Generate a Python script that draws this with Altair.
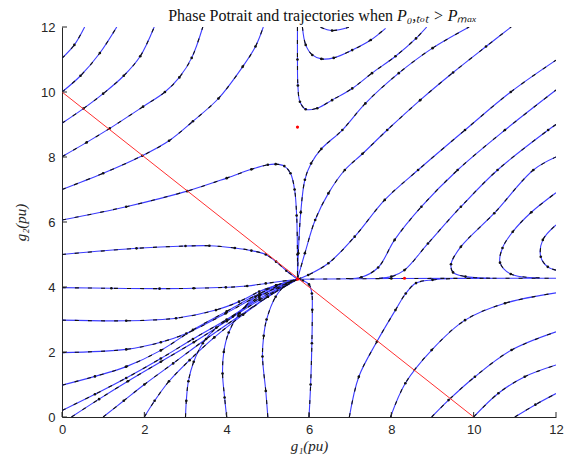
import altair as alt
import pandas as pd

TICKS = [0, 2, 4, 6, 8, 10, 12]
TITLE_MAIN = "Phase Potrait and trajectories when"
TITLE_MATH = "P\u2080,\u209c\u2092\u209c > P\u2098\u2090\u2093"

# --- trajectories (g1, g2) ---
curve_A = [(0, 11.04), (0.3, 11.45), (0.55, 12)]
curve_B = [(0, 10), (0.45, 10.5), (0.92, 11.2), (1.33, 12)]
curve_C = [(0, 9.04), (0.52, 9.49), (1.0, 9.95), (1.5, 10.5), (1.9, 11.1), (2.24, 12)]
curve_D = [(0, 8.01), (0.6, 8.45), (1.16, 8.88), (1.97, 9.55), (2.5, 10.0), (2.85, 10.45), (3.15, 11.05), (3.42, 12)]
curve_E = [(0, 7.0), (1.0, 7.5), (1.95, 8.04), (2.6, 8.5), (3.18, 9.1), (3.8, 9.8), (4.39, 10.78), (4.7, 11.4), (4.89, 12)]
curve_F = [(0, 6.06), (1.56, 6.47), (3.04, 6.95), (4.0, 7.35), (4.6, 7.62), (5.0, 7.76), (5.19, 7.78), (5.4, 7.72),
           (5.55, 7.5), (5.65, 7.0), (5.7, 6.2), (5.72, 5.0), (5.72, 4.24)]
curve_G = [(0, 5.0), (1.81, 5.19), (3.0, 5.26), (3.58, 5.27), (4.2, 5.2), (4.6, 5.12), (4.95, 5.0), (5.2, 4.78),
           (5.45, 4.5), (5.72, 4.24)]
curve_H = [(0, 3.98), (1.2, 3.96), (2.37, 3.95), (3.2, 3.96), (3.98, 3.99), (4.5, 4.03), (4.95, 4.11), (5.72, 4.24)]
curve_I = [(0, 2.98), (1.56, 2.96), (2.77, 3.04), (3.74, 3.29), (4.3, 3.55), (4.79, 3.86), (5.2, 4.05), (5.72, 4.24)]
curve_J = [(0, 1.98), (1.56, 2.08), (2.4, 2.3), (3.02, 2.57), (3.98, 3.19), (4.8, 3.75), (5.72, 4.24)]
curve_K = [(0, 0.98), (0.8, 1.25), (1.56, 1.55), (2.4, 2.05), (3.18, 2.68), (4.0, 3.25), (4.8, 3.8), (5.72, 4.24)]
curve_L = [(0, 0.2), (0.8, 0.7), (1.56, 1.2), (2.4, 1.8), (3.18, 2.4), (4.0, 3.0), (4.8, 3.65), (5.72, 4.24)]
curve_M = [(0.23, 0), (0.9, 0.55), (1.6, 1.1), (2.4, 1.7), (3.2, 2.3), (4.0, 2.95), (4.8, 3.6), (5.72, 4.24)]
curve_N = [(1.0, 0), (1.5, 0.5), (2.0, 1.0), (2.7, 1.65), (3.5, 2.4), (4.3, 3.1), (5.0, 3.7), (5.72, 4.24)]
curve_O = [(2.0, 0), (2.25, 0.5), (2.6, 1.1), (3.1, 1.75), (3.7, 2.45), (4.4, 3.15), (5.0, 3.7), (5.72, 4.24)]
curve_P = [(3.0, 0), (3.02, 0.5), (3.07, 1.1), (3.2, 1.7), (3.42, 2.27), (3.75, 2.75), (4.15, 3.09), (4.79, 3.7), (5.72, 4.24)]
curve_Q = [(4.0, 0), (3.95, 0.6), (3.9, 1.34), (3.93, 2.0), (4.05, 2.6), (4.31, 3.19), (4.7, 3.7), (5.2, 4.05), (5.72, 4.24)]
curve_R = [(5.0, 0), (4.95, 0.8), (4.87, 1.86), (4.9, 2.5), (4.97, 3.0), (5.19, 3.7), (5.45, 4.08), (5.72, 4.24)]
curve_S = [(6.0, 0), (6.04, 1.0), (6.07, 2.27), (6.08, 3.3), (6.07, 3.8), (6.0, 4.08), (5.85, 4.2), (5.72, 4.24)]
curve_T = [(6.98, 0), (7.21, 1.24), (7.65, 2.32), (8.1, 3.29), (8.35, 3.8), (8.6, 4.12), (9.0, 4.22), (9.5, 4.26)]
curve_U = [(7.98, 0), (8.34, 1.04), (8.98, 2.06), (9.79, 2.98), (10.76, 3.5), (12, 3.82)]
curve_V = [(8.98, 0), (9.39, 0.52), (10.03, 1.24), (10.92, 2.06), (12, 2.62)]
curve_W = [(10, 0), (10.6, 0.73), (11.24, 1.24), (12, 1.6)]
curve_X = [(11, 0), (11.5, 0.38), (12, 0.72)]
curve_H0 = [(5.72, 4.24), (8.0, 4.26), (12, 4.27)]
curve_Y0 = [(5.72, 4.24), (5.74, 5.04), (5.8, 6.3), (5.9, 7.3), (6.05, 7.8), (6.3, 8.25), (6.81, 8.83), (7.37, 9.65),
            (8.18, 10.58), (9.0, 11.35), (9.89, 12)]
curve_Y1 = [(5.72, 4.24), (5.9, 5.04), (6.15, 6.06), (6.47, 6.88), (6.87, 7.6), (7.3, 8.1), (7.9, 8.83), (8.7, 9.75),
            (9.5, 10.6), (10.3, 11.4), (10.91, 12)]
curve_Y2 = [(5.72, 4.24), (5.98, 4.37), (6.47, 4.73), (7.11, 5.55), (7.84, 6.68), (8.65, 7.6), (9.79, 8.83),
            (10.9, 10.0), (12, 10.98)]
curve_Y3 = [(6.9, 4.26), (7.27, 4.3), (7.68, 4.6), (8.08, 5.45), (8.73, 6.47), (9.61, 7.6), (10.76, 8.83), (12, 10.06)]
curve_Y4 = [(7.7, 4.27), (8.0, 4.32), (8.32, 4.52), (8.89, 5.34), (9.69, 6.47), (10.58, 7.6), (11.81, 8.83), (12, 9.0)]
curve_U1 = [(10.4, 4.27), (9.8, 4.32), (9.5, 4.45), (9.45, 4.7), (9.69, 5.24), (10.5, 6.27), (11.45, 7.6), (12, 8.0)]
curve_U2 = [(11.6, 4.28), (10.9, 4.4), (10.64, 4.75), (10.7, 5.2), (10.95, 5.7), (11.4, 6.3), (12, 6.9)]
curve_U3 = [(12, 4.52), (11.8, 4.62), (11.63, 4.93), (11.68, 5.45), (12, 5.91)]
curve_bigU = [(5.72, 12), (5.72, 11), (5.73, 10.2), (5.78, 9.7), (5.92, 9.47), (6.2, 9.5), (6.56, 9.75), (7.05, 10.11),
              (7.53, 10.58), (8.1, 11.1), (8.6, 11.65), (8.86, 12)]
curve_smallU = [(5.84, 12), (5.92, 11.45), (6.08, 11.14), (6.3, 11.02), (6.6, 11.05), (7.05, 11.29), (7.5, 11.6), (7.86, 11.96)]
curve_arc = [(6.28, 11.99), (6.56, 11.89), (6.97, 11.99)]

curves = {
    "A": curve_A, "B": curve_B, "C": curve_C, "D": curve_D, "E": curve_E, "F": curve_F, "G": curve_G,
    "H": curve_H, "I": curve_I, "J": curve_J, "K": curve_K, "L": curve_L, "M": curve_M, "N": curve_N,
    "O": curve_O, "P": curve_P, "Q": curve_Q, "R": curve_R, "S": curve_S, "T": curve_T, "U": curve_U,
    "V": curve_V, "W": curve_W, "X": curve_X, "H0": curve_H0, "Y0": curve_Y0, "Y1": curve_Y1,
    "Y2": curve_Y2, "Y3": curve_Y3, "Y4": curve_Y4, "U1": curve_U1, "U2": curve_U2, "U3": curve_U3,
    "bigU": curve_bigU, "smallU": curve_smallU, "arc": curve_arc,
}

# red constraint line g1 + g2 = 10
red_x = [0, 10]
red_y = [10, 0]
# red markers
red_pts_x = [5.72, 8.32, 5.72]
red_pts_y = [8.92, 4.27, 4.24]

rows = []
for name, pts in curves.items():
    n = len(pts)
    for i, (x, y) in enumerate(pts):
        rows.append({"curve": name, "i": i, "x": x, "y": y, "inner": 0 < i < n - 1})
df = pd.DataFrame(rows)
red_df = pd.DataFrame({"x": red_x, "y": red_y})
redpt_df = pd.DataFrame({"x": red_pts_x, "y": red_pts_y})
ticks_df = pd.DataFrame({"t": TICKS})
title_df = pd.DataFrame({"a": [TITLE_MAIN], "b": [TITLE_MATH]})

W, H = 494, 390
AX = "#262626"

xscale = alt.Scale(domain=[0, 12], nice=False)
yscale = alt.Scale(domain=[0, 12], nice=False)

xaxis = alt.Axis(values=TICKS, title="g\u2081(pu)", grid=False, tickSize=0, labelPadding=6, labelFlush=False,
                 titleFont="Liberation Serif", titleFontStyle="italic", titleFontSize=15,
                 titleFontWeight="normal", titlePadding=2, titleColor=AX)
yaxis = alt.Axis(values=TICKS, title="g\u2082(pu)", grid=False, tickSize=0, labelPadding=7, labelFlush=False,
                 titleFont="Liberation Serif", titleFontStyle="italic", titleFontSize=15,
                 titleFontWeight="normal", titlePadding=12, titleColor=AX)

base = alt.Chart(df).encode(
    x=alt.X("x:Q", scale=xscale, axis=xaxis),
    y=alt.Y("y:Q", scale=yscale, axis=yaxis),
    detail="curve:N",
    order="i:Q",
)
blue = base.mark_line(color="#3c3cff", strokeWidth=1.1, interpolate="catmull-rom", clip=True)
black = base.mark_line(color="#111111", strokeWidth=1.1, strokeDash=[4, 9], interpolate="catmull-rom", clip=True)
heads = alt.Chart(df).transform_filter("datum.inner").mark_point(
    color="#111111", filled=True, size=7, opacity=1, clip=True
).encode(x=alt.X("x:Q", scale=xscale), y=alt.Y("y:Q", scale=yscale))

red_line = alt.Chart(red_df).mark_line(color="#ff3030", strokeWidth=1, clip=True).encode(
    x=alt.X("x:Q", scale=xscale), y=alt.Y("y:Q", scale=yscale))
red_dots = alt.Chart(redpt_df).mark_point(color="#ff0000", filled=True, size=10, opacity=1).encode(
    x=alt.X("x:Q", scale=xscale), y=alt.Y("y:Q", scale=yscale))

xt = alt.Chart(ticks_df).mark_rule(color=AX, strokeWidth=1).encode(
    x=alt.X("t:Q", scale=xscale), y=alt.value(H), y2=alt.value(H - 5))
yt = alt.Chart(ticks_df).mark_rule(color=AX, strokeWidth=1).encode(
    y=alt.Y("t:Q", scale=yscale), x=alt.value(0), x2=alt.value(5))

title_a = alt.Chart(title_df).mark_text(
    font="Liberation Serif", fontSize=16, color="#111111", align="right", baseline="alphabetic"
).encode(text="a:N", x=alt.value(331), y=alt.value(-6))
title_b = alt.Chart(title_df).mark_text(
    font="Liberation Serif", fontSize=16, fontStyle="italic", color="#111111", align="left", baseline="alphabetic"
).encode(text="b:N", x=alt.value(335), y=alt.value(-6))

chart = alt.layer(blue, black, heads, red_line, red_dots, xt, yt, title_a, title_b).properties(
    width=W, height=H,
    autosize=alt.AutoSizeParams(type="none"),
    padding={"left": 54, "top": 19, "right": 8, "bottom": 38},
).configure_view(stroke=None).configure_axis(
    domainColor=AX, labelColor=AX, labelFont="Liberation Sans", labelFontSize=13,
)

chart.save("out.html", embed_options={"renderer": "svg", "actions": False})
